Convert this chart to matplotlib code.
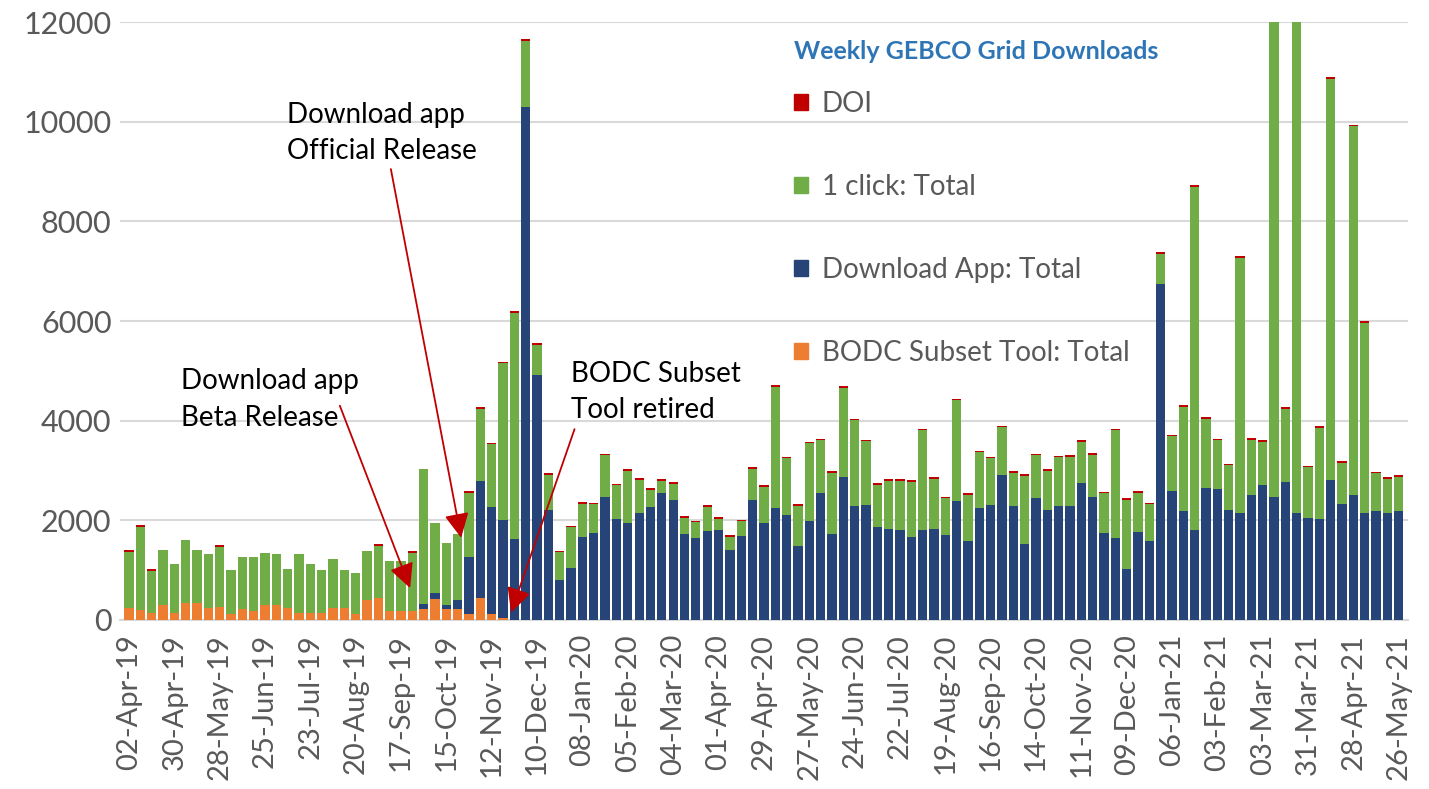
import matplotlib
matplotlib.use("Agg")
import matplotlib.pyplot as plt
from matplotlib.patches import Patch

# Weekly downloads, one value per week (02-Apr-19 .. 25-May-21)
bodc_subset = [235, 195, 135, 302, 135, 349, 349, 235, 262, 128,
               228, 181, 302, 302, 235, 135, 135, 135, 235, 235,
               129, 396, 449, 181, 181, 181, 215, 420, 215, 220,
               121, 437, 121, 40] + [0] * 79

download_app = [0] * 26 + [100, 130, 80, 180,
                1150, 2350, 2140, 1960, 1628, 10300, 4915, 2202, 808, 1044,
                1657, 1751, 2471, 2034, 1939, 2141, 2269, 2552, 2404, 1717,
                1650, 1785, 1798, 1414, 1684, 2404, 1946, 2256, 2108, 1481,
                1987, 2539, 1731, 2862, 2283, 2316, 1865, 1818, 1805, 1670,
                1805, 1832, 1704, 2391, 1589, 2256, 2316, 2909, 2296, 1535,
                2444, 2209, 2296, 2296, 2741, 2478, 1751, 1636, 1028, 1773,
                1579, 6753, 2583, 2194, 1798, 2648, 2632, 2202, 2146, 2502,
                2704, 2462, 2769, 2138, 2041, 2033, 2810, 2324, 2518, 2138,
                2178, 2154, 2194]

one_click = [1137, 1670, 857, 1100, 998, 1261, 1053, 1087, 1211, 877,
             1046, 1080, 1046, 1020, 791, 1187, 992, 865, 999, 778,
             823, 993, 1044, 1013, 1013, 1168, 2717, 1388, 1242, 1317,
             1282, 1450, 1264, 3152, 4536, 1322, 610, 715, 556, 818,
             677, 569, 832, 670, 1061, 677, 347, 246, 327, 340,
             307, 488, 236, 253, 293, 630, 731, 2428, 1141, 812,
             1559, 1067, 1222, 1795, 1721, 1270, 852, 980, 986, 1101,
             2003, 1007, 744, 2023, 920, 1108, 933, 960, 657, 1364,
             859, 791, 967, 980, 832, 839, 791, 2172, 1387, 780,
             747, 602, 1104, 2089, 6893, 1387, 974, 902, 5128, 1120,
             877, 10500, 1468, 10600, 1028, 1829, 8051, 836, 7387, 3824,
             764, 682, 683]

doi = [30, 40, 40, 0, 0, 0, 0, 0, 30, 0,
       0, 0, 0, 0, 0, 0, 0, 0, 0, 0,
       0, 0, 30, 0, 0, 40, 0, 0, 0, 0] + [30] * 83

tick_labels = ["02-Apr-19", "30-Apr-19", "28-May-19", "25-Jun-19", "23-Jul-19",
               "20-Aug-19", "17-Sep-19", "15-Oct-19", "12-Nov-19", "10-Dec-19",
               "08-Jan-20", "05-Feb-20", "04-Mar-20", "01-Apr-20", "29-Apr-20",
               "27-May-20", "24-Jun-20", "22-Jul-20", "19-Aug-20", "16-Sep-20",
               "14-Oct-20", "11-Nov-20", "09-Dec-20", "06-Jan-21", "03-Feb-21",
               "03-Mar-21", "31-Mar-21", "28-Apr-21", "26-May-21"]

ORANGE = "#ED7D31"
NAVY = "#264478"
GREEN = "#70AD47"
RED = "#C00000"
GREY_TEXT = "#595959"

plt.rcParams['font.family'] = ['Lato', 'DejaVu Sans']


def draw_chart():
    fig = plt.figure(figsize=(14.29, 7.89), dpi=100)
    ax = fig.add_axes([0.0839, 0.2142, 0.9013, 0.7578])

    x = list(range(len(one_click)))
    width = 0.82

    # stack the four series
    bottom1 = bodc_subset
    bottom2 = [a + b for a, b in zip(bodc_subset, download_app)]
    bottom3 = [a + b for a, b in zip(bottom2, one_click)]

    ax.bar(x, bodc_subset, width, color=ORANGE, zorder=3)
    ax.bar(x, download_app, width, bottom=bottom1, color=NAVY, zorder=3)
    ax.bar(x, one_click, width, bottom=bottom2, color=GREEN, zorder=3)
    ax.bar(x, doi, width, bottom=bottom3, color=RED, zorder=3)

    ax.set_xlim(-0.8, len(x) - 0.2)
    ax.set_ylim(0, 12000)
    ax.set_yticks(range(0, 12001, 2000))
    ax.set_xticks(x[::4])
    ax.set_xticklabels(tick_labels, rotation=90)
    ax.tick_params(axis='both', length=0, labelsize=21, colors=GREY_TEXT)
    ax.tick_params(axis='y', labelsize=22, pad=6)
    ax.tick_params(axis='x', pad=10)

    ax.grid(axis='y', color="#D9D9D9", linewidth=1.5, zorder=0)
    for side in ['top', 'right', 'left']:
        ax.spines[side].set_visible(False)
    ax.spines['bottom'].set_color("#D9D9D9")
    ax.spines['bottom'].set_linewidth(1.5)

    # annotations with red arrows
    arrow = dict(arrowstyle="-|>,head_length=1.5,head_width=0.75", color=RED, lw=1.3,
                 shrinkA=0, shrinkB=0)
    ax.text(13.9, 10400, "Download app\nOfficial Release", fontsize=20,
            va='top', ha='left', linespacing=1.5)
    ax.annotate("", xy=(29.3, 1650), xytext=(23.1, 9050), arrowprops=arrow)

    ax.text(4.6, 5050, "Download app\nBeta Release", fontsize=20,
            va='top', ha='left', linespacing=1.5)
    ax.annotate("", xy=(24.8, 640), xytext=(18.6, 4300), arrowprops=arrow)

    ax.text(39.0, 5200, "BODC Subset\nTool retired", fontsize=20,
            va='top', ha='left', linespacing=1.5)
    ax.annotate("", xy=(33.7, 150), xytext=(39.3, 3830), arrowprops=arrow)

    # legend, DOI on top
    handles = [Patch(color=RED, label="DOI"),
               Patch(color=GREEN, label="1 click: Total"),
               Patch(color=NAVY, label="Download App: Total"),
               Patch(color=ORANGE, label="BODC Subset Tool: Total")]
    leg = ax.legend(handles=handles, loc='upper left',
                    bbox_to_anchor=(794 / 1429, 1 - 40 / 789),
                    bbox_transform=fig.transFigure, frameon=False,
                    fontsize=20, labelcolor=GREY_TEXT,
                    handlelength=0.5, handleheight=0.5, handletextpad=0.5,
                    labelspacing=2.05, borderpad=0, borderaxespad=0,
                    alignment='left',
                    title="Weekly GEBCO Grid Downloads")
    leg.get_title().set_fontsize(18)
    leg.get_title().set_fontweight('bold')
    leg.get_title().set_color("#2E75B6")
    leg._legend_box.sep = 20

    fig.savefig("out.png", dpi=100)


def main():
    draw_chart()


if __name__ == "__main__":
    main()
